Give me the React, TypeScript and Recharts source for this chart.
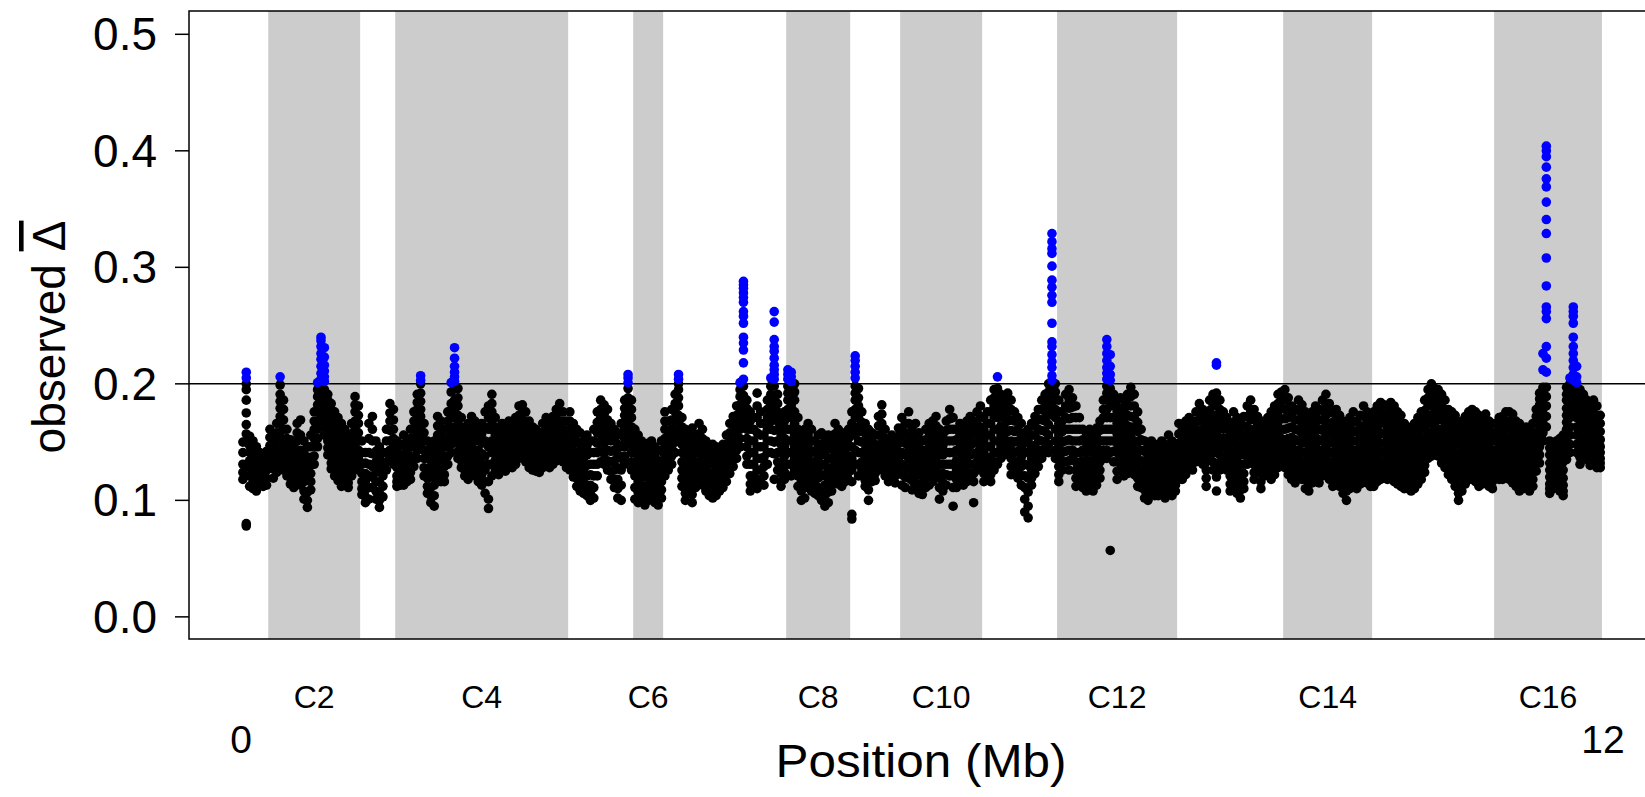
import {
  ScatterChart,
  Scatter,
  XAxis,
  YAxis,
  ReferenceArea,
  ReferenceLine,
} from "recharts";

const chrNames = ["C1", "C2", "C3", "C4", "C5", "C6", "C7", "C8", "C9", "C10", "C11", "C12", "C13", "C14", "C15", "C16"];
const chrLengths = [0.238, 0.81, 0.309, 1.524, 0.573, 0.264, 1.084, 0.564, 0.44, 0.723, 0.66, 1.058, 0.934, 0.784, 1.075, 0.95];
const posTicks = [0, 12];
const yTicks = [0, 0.1, 0.2, 0.3, 0.4, 0.5];
const threshold = 0.2;

// observed delta (x1000); each inner list = windows at one position along the chromosome
const c1 = [
  [150, 141, 131, 124, 118], [210, 205, 200, 195, 186, 175, 165, 157, 150, 80, 78],
  [155, 147, 141, 134, 128, 121, 112], [151, 143, 136, 129, 122, 116, 110], [146, 138, 131, 125, 119, 113, 108],
  [141, 134, 127, 121, 116], [136, 129, 123, 117, 112], [142, 134, 126, 119, 113],
];
const c2 = [
  [161, 154, 147, 140, 133], [156, 149, 141, 134, 127, 119], [166, 158, 151, 144, 137, 130, 124],
  [206, 199, 191, 185, 179, 172, 166, 158, 151, 142, 133], [186, 178, 169, 161, 152, 145, 138, 132, 126],
  [161, 153, 146, 138, 131, 126, 121], [152, 145, 139, 132, 126, 120, 114], [146, 138, 131, 125, 119, 115, 111],
  [166, 158, 151, 143, 136, 128, 121], [169, 156, 143, 134, 126, 119, 113], [151, 141, 132, 124, 116, 108, 101],
  [146, 136, 126, 117, 107, 100, 94], [156, 146, 137, 130, 123, 116, 109], [176, 168, 161, 153, 146, 138, 131],
  [201, 195, 189, 182, 176, 168, 161, 153, 146],
  [240, 237, 232, 226, 221, 215, 209, 204, 198, 190, 184, 178, 173, 168],
  [231, 223, 216, 211, 206, 202, 195, 190, 185, 178, 171, 163, 156],
  [191, 186, 181, 176, 171, 166, 161, 156, 151, 145, 139], [183, 178, 173, 167, 161, 155, 149, 143, 138, 132, 127],
  [176, 171, 166, 159, 153, 147, 141, 136, 132, 126, 121], [171, 165, 159, 152, 146, 141, 136, 132, 128, 122, 117],
  [166, 159, 153, 147, 141, 135, 129, 125, 122, 117, 112], [161, 153, 146, 139, 133, 128, 123, 119, 116],
  [156, 148, 141, 135, 129, 124, 119, 115, 111], [166, 157, 149, 141, 133, 127, 121],
  [189, 182, 176, 168, 161, 153, 146, 138, 131], [181, 173, 166, 158, 151, 143, 136, 131, 126],
];
const c3 = [
  [151, 141, 131, 123, 116, 110, 105], [141, 132, 123, 116, 109, 103, 98], [166, 153, 141, 131, 121, 111, 101],
  [172, 161, 151, 140, 129, 120, 111], [151, 142, 133, 124, 116, 108, 101], [146, 136, 126, 116, 106, 100, 94],
  [141, 131, 121, 112, 103], [161, 151, 141, 133, 126], [183, 175, 168, 160, 151, 143, 136],
  [178, 169, 161, 153, 146, 138, 131],
];
const c4 = [
  [151, 143, 136, 128, 121, 116, 112], [148, 139, 131, 124, 118, 113], [156, 147, 139, 132, 126, 119, 113],
  [151, 142, 133, 127, 121, 116], [161, 153, 146, 138, 131, 124, 118], [176, 168, 161, 153, 146, 137, 129],
  [191, 184, 178, 172, 166, 158, 151, 143, 136], [207, 203, 200, 192, 185, 178, 172, 166, 161, 153, 146],
  [166, 158, 151, 143, 136, 128, 121], [151, 143, 136, 127, 119, 112, 106], [146, 137, 129, 120, 111, 104, 98],
  [151, 141, 131, 122, 113, 104, 95], [172, 164, 156, 146, 136, 127, 119], [168, 159, 151, 141, 131, 123, 116],
  [161, 153, 146, 137, 129, 122, 116], [176, 168, 161, 153, 146, 138, 131],
  [201, 193, 183, 177, 171, 163, 156, 148, 141], [231, 222, 215, 210, 206, 202, 196, 186, 178, 171, 161, 151],
  [196, 188, 181, 173, 166, 157, 149, 142, 136], [171, 163, 156, 148, 141, 134, 128], [161, 153, 146, 138, 131, 126, 121],
  [166, 157, 149, 141, 133, 125, 118], [172, 164, 156, 147, 139, 131, 123], [168, 159, 151, 143, 136, 128, 121],
  [161, 152, 143, 136, 129, 122, 116], [166, 157, 149, 140, 131, 122, 113], [176, 163, 151, 138, 126, 116, 106],
  [181, 171, 161, 146, 131, 116, 101, 93], [191, 183, 176, 168, 161, 151, 141, 131, 121],
  [171, 163, 156, 148, 141, 134, 127], [161, 154, 146, 139, 133, 127, 122], [166, 158, 151, 145, 139, 133, 128],
  [161, 155, 149, 142, 136, 130, 125], [168, 160, 153, 147, 141, 136, 131], [166, 158, 151, 145, 139, 133, 128],
  [171, 163, 156, 149, 143, 137, 131], [181, 173, 166, 158, 151, 143, 136], [182, 175, 168, 160, 153, 146, 139],
  [176, 168, 161, 153, 146, 139, 133], [168, 160, 153, 147, 141, 134, 128], [163, 157, 151, 144, 138, 132, 126],
  [161, 154, 148, 142, 137, 131, 125], [158, 152, 146, 141, 136, 130, 124], [166, 158, 151, 145, 139, 133, 128],
  [171, 163, 156, 148, 141, 136, 131], [166, 160, 153, 147, 141, 134, 128], [172, 165, 158, 150, 143, 137, 131],
  [178, 170, 163, 155, 148, 141, 134], [183, 176, 168, 159, 151, 144, 137], [176, 168, 161, 153, 146, 139, 133],
  [168, 160, 153, 147, 141, 134, 128],
];
const c5 = [
  [176, 168, 161, 151, 141, 133, 126], [166, 157, 148, 140, 133, 127, 120], [161, 151, 141, 133, 126, 119, 112],
  [158, 148, 138, 129, 121, 114, 108], [151, 143, 136, 127, 118, 112, 106], [156, 147, 139, 130, 121, 112, 104],
  [151, 141, 131, 122, 113, 106, 100], [161, 151, 141, 131, 121, 111, 102], [176, 167, 158, 149, 141, 131, 121],
  [186, 178, 171, 161, 151, 142, 133], [182, 174, 166, 157, 149, 140, 131], [178, 169, 161, 152, 143, 134, 126],
  [166, 158, 151, 142, 133, 125, 118], [161, 152, 143, 134, 126, 118, 111], [158, 148, 139, 128, 118, 110, 102],
  [166, 156, 146, 136, 126, 113, 100], [186, 179, 173, 166, 161, 153, 146, 138, 131],
  [208, 205, 201, 196, 188, 181, 173, 166, 158, 151], [186, 178, 171, 163, 156, 148, 141, 133, 126],
];
const c6 = [
  [161, 151, 141, 131, 121, 111, 101], [156, 146, 136, 126, 116, 107, 98], [151, 141, 131, 122, 113, 106, 100],
  [146, 137, 129, 120, 111, 103, 96], [149, 140, 131, 122, 113, 106, 100], [151, 142, 133, 124, 116, 110, 104],
  [146, 137, 129, 121, 113, 105, 98], [143, 134, 126, 117, 109, 102, 96], [151, 142, 133, 124, 116, 109, 102],
];
const c7 = [
  [176, 168, 161, 153, 146, 139, 133, 127, 121], [168, 160, 153, 146, 139, 132, 126], [178, 169, 161, 153, 146, 138, 131],
  [191, 183, 176, 168, 159, 150, 141], [208, 204, 200, 195, 188, 181, 173, 166, 158, 151],
  [171, 163, 156, 148, 141, 133, 126, 119, 112], [161, 153, 146, 137, 129, 121, 113, 106, 100],
  [158, 149, 141, 133, 126, 117, 109], [162, 154, 147, 139, 131, 122, 113, 105, 98], [156, 148, 141, 133, 126, 118, 111],
  [166, 157, 149, 141, 133, 126, 119], [161, 153, 146, 137, 129, 121, 113], [151, 143, 136, 128, 121, 114, 108],
  [146, 138, 131, 123, 116, 110, 104], [148, 139, 131, 123, 116, 109, 102], [146, 137, 129, 121, 113, 108, 104],
  [143, 136, 129, 122, 116, 112, 108], [148, 140, 133, 127, 121, 115, 111], [156, 148, 141, 135, 129, 122, 116],
  [166, 158, 151, 143, 136, 129, 123], [172, 165, 158, 150, 143, 136, 129], [181, 173, 166, 158, 151, 143, 136],
  [201, 195, 189, 182, 176, 168, 161, 153, 146],
  [288, 285, 282, 278, 274, 270, 262, 258, 252, 240, 235, 229, 218, 204, 198, 190, 185, 180, 172, 165],
  [186, 179, 173, 167, 161, 153, 146, 138, 131], [176, 168, 161, 151, 141, 131, 121, 114, 108],
  [171, 161, 151, 141, 131, 121, 112], [192, 181, 171, 158, 146, 136, 126, 118, 110], [176, 166, 156, 146, 136, 126, 116],
  [166, 156, 146, 137, 129, 121, 113], [186, 178, 171, 161, 151, 141, 131], [205, 198, 191, 183, 176, 168, 161, 151, 141],
  [262, 253, 238, 232, 228, 222, 216, 212, 208, 204, 198, 189, 180, 170, 160, 150, 140, 118],
  [191, 183, 176, 168, 161, 151, 141, 133, 126], [171, 163, 156, 148, 141, 132, 123, 116, 112],
  [176, 168, 161, 153, 146, 138, 131, 124, 118],
];
const c8 = [
  [212, 208, 204, 198, 192, 186, 178, 171, 161, 151, 141, 131], [210, 206, 202, 195, 188, 181, 171, 161, 151, 141, 131, 121],
  [200, 193, 186, 176, 166, 156, 146, 136, 126], [171, 161, 151, 141, 131, 121, 112], [156, 146, 136, 126, 116, 108, 100],
  [161, 151, 141, 131, 121, 111, 102], [166, 156, 146, 136, 126, 118, 111], [161, 151, 141, 132, 123, 115, 108],
  [151, 142, 133, 126, 118, 112, 106], [156, 146, 136, 127, 119, 111, 104], [158, 148, 139, 130, 121, 110, 100],
  [151, 141, 131, 122, 113, 104, 95], [156, 146, 136, 126, 116, 107, 98], [153, 144, 136, 128, 121, 114, 108],
  [166, 157, 149, 140, 131, 124, 118], [161, 153, 146, 137, 129, 121, 114], [156, 148, 141, 133, 126, 119, 112],
  [158, 150, 143, 136, 129, 122, 116], [161, 153, 146, 138, 131, 124, 118],
];
const c9 = [
  [176, 166, 156, 146, 136, 126, 116, 88, 84], [224, 220, 215, 210, 205, 198, 192, 186, 178, 171, 163, 156, 143, 131],
  [196, 188, 181, 171, 161, 151, 141, 131, 121], [176, 167, 159, 150, 141, 133, 126],
  [166, 158, 151, 143, 136, 129, 123, 117, 112], [161, 153, 146, 138, 131, 124, 118, 109, 100],
  [158, 150, 143, 136, 129, 122, 116], [156, 148, 141, 135, 129, 123, 117], [172, 164, 156, 147, 139, 132, 126],
  [182, 174, 166, 157, 149, 141, 133], [161, 153, 146, 139, 133, 127, 121], [151, 145, 139, 133, 127, 121, 116],
  [156, 148, 141, 135, 129, 123, 118], [151, 145, 139, 133, 127, 121, 115], [162, 155, 149, 142, 136, 129, 123],
];
const c10 = [
  [171, 161, 151, 141, 131, 122, 113], [166, 158, 149, 139, 129, 120, 111], [176, 166, 156, 146, 136, 127, 119],
  [161, 152, 143, 134, 126, 117, 109], [166, 156, 146, 137, 129, 121, 113], [158, 149, 141, 132, 123, 114, 106],
  [151, 143, 136, 128, 121, 113, 105], [161, 152, 143, 134, 126, 118, 111], [166, 158, 149, 140, 131, 122, 113],
  [168, 160, 151, 142, 133, 124, 116], [172, 164, 156, 146, 136, 127, 119], [161, 151, 141, 131, 121, 111, 101],
  [156, 147, 139, 131, 123, 115, 108], [168, 160, 151, 141, 131, 122, 113], [178, 170, 161, 151, 141, 131, 121],
  [171, 161, 151, 141, 131, 121, 111, 95], [161, 152, 143, 134, 126, 118, 111], [166, 157, 149, 141, 133, 125, 118],
  [162, 154, 146, 137, 129, 121, 113], [168, 160, 151, 142, 133, 124, 116], [172, 164, 156, 147, 139, 131, 123],
  [166, 157, 149, 140, 131, 123, 116, 98], [176, 168, 159, 150, 141, 133, 126], [181, 172, 163, 154, 146, 137, 129],
];
const c11 = [
  [171, 161, 151, 141, 131, 123, 116], [176, 166, 156, 146, 136, 127, 119], [186, 176, 166, 156, 146, 137, 129, 122, 116],
  [195, 188, 181, 171, 161, 151, 141, 133, 126], [206, 196, 186, 178, 171, 161, 151, 141, 131],
  [191, 182, 173, 164, 156, 146, 136], [188, 179, 171, 162, 153, 146, 139], [192, 184, 176, 168, 159, 150, 141],
  [186, 178, 169, 160, 151, 143, 136, 129, 122], [176, 168, 159, 150, 141, 133, 126], [171, 161, 151, 142, 133, 126, 119],
  [166, 156, 146, 137, 129, 121, 113], [158, 149, 141, 131, 121, 111, 101, 90], [161, 151, 141, 130, 119, 107, 95, 85],
  [166, 156, 146, 136, 126, 119, 113], [172, 164, 156, 147, 139, 131, 123], [178, 170, 161, 152, 143, 136, 129],
  [186, 178, 169, 160, 151, 143, 136], [191, 184, 176, 168, 159, 150, 141], [200, 193, 186, 179, 173, 165, 156, 148, 141],
  [329, 322, 316, 312, 301, 289, 283, 276, 270, 252, 236, 232, 225, 219, 214, 207, 203, 199, 192, 185, 176],
  [200, 193, 186, 178, 171, 161, 151, 143, 136],
];
const c12 = [
  [186, 176, 166, 156, 146, 137, 129, 122, 116], [176, 168, 159, 150, 141, 133, 126], [191, 181, 171, 161, 151, 142, 133],
  [195, 187, 179, 170, 161, 152, 143, 134, 126], [188, 180, 171, 161, 151, 143, 136],
  [181, 171, 161, 151, 141, 133, 126, 119, 112], [171, 161, 151, 141, 131, 123, 116], [161, 152, 143, 134, 126, 118, 111],
  [158, 149, 141, 132, 123, 115, 108], [161, 152, 143, 134, 126, 118, 111], [158, 149, 141, 132, 123, 115, 108],
  [162, 154, 146, 137, 129, 121, 113], [168, 160, 151, 142, 133, 126, 119], [186, 178, 171, 161, 151, 143, 136],
  [238, 232, 226, 220, 214, 209, 204, 198, 192, 186, 178, 171, 161, 151, 143, 136],
  [225, 215, 208, 203, 196, 188, 181, 171, 161, 151, 141, 57], [191, 181, 171, 161, 151, 142, 133],
  [186, 176, 166, 157, 149, 141, 133, 125, 118], [188, 179, 171, 162, 153, 146, 139, 132, 126],
  [186, 177, 169, 160, 151, 143, 136, 128, 121], [191, 182, 173, 164, 156, 147, 139, 131, 123],
  [197, 189, 181, 172, 163, 154, 146, 137, 129], [191, 181, 171, 161, 151, 143, 136, 129, 122],
  [176, 167, 159, 150, 141, 133, 126, 119, 112], [161, 152, 143, 134, 126, 118, 111], [151, 142, 133, 124, 116, 109, 102],
  [146, 137, 129, 120, 113, 106, 100], [151, 142, 133, 126, 119, 112, 106], [148, 139, 131, 123, 116, 110, 104],
  [146, 137, 129, 122, 115, 109, 104], [151, 142, 133, 125, 117, 111, 106], [148, 139, 131, 123, 116, 109, 102],
  [156, 146, 136, 127, 119, 112, 105], [151, 142, 133, 125, 117, 110, 104], [148, 140, 133, 126, 119, 113, 108],
];
const c13 = [
  [166, 157, 149, 141, 133, 125, 118], [161, 153, 146, 138, 131, 124, 118], [168, 160, 151, 143, 136, 129, 122],
  [171, 163, 156, 148, 141, 134, 128], [168, 160, 153, 146, 139, 132, 126], [176, 168, 161, 153, 146, 139, 133],
  [183, 175, 168, 159, 151, 143, 136], [178, 170, 161, 153, 146, 138, 131], [172, 164, 156, 148, 141, 133, 126, 119, 112],
  [186, 177, 169, 160, 151, 143, 136], [191, 182, 173, 164, 156, 148, 141, 133, 126],
  [218, 216, 192, 186, 181, 173, 166, 158, 151, 141, 131, 120, 108], [186, 178, 171, 162, 153, 146, 139, 132, 126],
  [176, 168, 161, 153, 146, 138, 131], [171, 162, 153, 146, 139, 132, 126], [166, 158, 151, 143, 136, 128, 121, 114, 108],
  [176, 167, 159, 150, 141, 133, 126, 119, 112], [171, 162, 153, 144, 136, 128, 121, 113, 106],
  [166, 157, 149, 140, 131, 123, 116, 109, 102], [172, 164, 156, 147, 139, 131, 123, 116, 110],
  [181, 172, 163, 154, 146, 138, 131], [186, 177, 169, 160, 151, 143, 136], [178, 170, 161, 153, 146, 138, 131, 124, 118],
  [172, 164, 156, 148, 141, 134, 127], [168, 159, 151, 143, 136, 129, 123, 116, 110], [166, 157, 149, 141, 133, 127, 121],
  [171, 162, 153, 146, 139, 132, 126], [176, 168, 159, 151, 143, 137, 131, 124, 118], [181, 172, 163, 156, 149, 142, 136, 129, 122],
  [191, 183, 176, 167, 159, 151, 143, 135, 128], [193, 186, 179, 170, 161, 153, 146, 138, 131],
];
const c14 = [
  [195, 186, 178, 170, 161, 152, 143, 135, 128], [188, 179, 171, 162, 153, 145, 137, 129, 122],
  [181, 172, 163, 154, 146, 138, 131, 124, 118], [178, 169, 161, 152, 143, 136, 129, 122, 115],
  [186, 177, 169, 160, 151, 143, 136, 128, 121], [182, 174, 166, 157, 149, 141, 133, 125, 118],
  [176, 167, 159, 150, 141, 133, 126, 118, 110], [171, 162, 153, 144, 136, 128, 121, 114, 108],
  [176, 167, 159, 151, 143, 136, 129, 122, 115], [181, 172, 163, 154, 146, 138, 131, 124, 118],
  [178, 169, 161, 152, 143, 136, 129, 122, 115], [186, 177, 169, 160, 151, 143, 136, 128, 121],
  [191, 182, 173, 164, 156, 147, 139, 130, 122], [183, 175, 166, 157, 149, 141, 133, 125, 118],
  [176, 167, 159, 150, 141, 133, 126, 119, 112], [178, 170, 161, 153, 146, 138, 131, 124, 118],
  [173, 164, 156, 148, 141, 134, 127, 119, 112], [168, 159, 151, 143, 136, 128, 121, 113, 106],
  [166, 157, 149, 140, 131, 123, 116, 108, 100], [171, 162, 153, 145, 137, 130, 123, 116, 110],
  [176, 167, 159, 151, 143, 136, 129, 122, 115], [168, 159, 151, 143, 136, 129, 123, 116, 110],
  [173, 164, 156, 148, 141, 134, 127, 120, 114], [181, 172, 163, 154, 146, 138, 131, 123, 116],
  [176, 167, 159, 151, 143, 136, 129, 122, 115], [171, 162, 153, 146, 139, 132, 126, 119, 112],
];
const c15 = [
  [176, 167, 159, 150, 141, 133, 126, 119, 112], [181, 172, 163, 154, 146, 138, 131, 123, 116],
  [184, 175, 167, 158, 149, 141, 133, 125, 118], [182, 174, 166, 157, 149, 141, 133, 126, 120],
  [181, 172, 163, 154, 146, 138, 131, 124, 118], [184, 175, 167, 158, 149, 141, 133, 126, 120],
  [181, 172, 163, 155, 147, 139, 131, 123, 116], [176, 168, 161, 152, 143, 136, 129, 121, 114],
  [173, 164, 156, 148, 141, 134, 127, 119, 112], [166, 158, 151, 143, 136, 129, 123, 116, 110],
  [163, 156, 149, 142, 135, 128, 121, 115, 110], [161, 154, 147, 140, 133, 127, 121, 114, 108],
  [166, 158, 151, 144, 137, 130, 123, 116, 110], [171, 163, 156, 148, 141, 134, 127, 120, 114],
  [176, 168, 161, 153, 146, 138, 131, 124, 118], [186, 177, 169, 161, 153, 145, 137, 130, 124],
  [195, 188, 181, 173, 166, 158, 151, 143, 136], [200, 192, 186, 181, 173, 166, 158, 151, 144, 138],
  [196, 191, 186, 178, 171, 163, 156, 148, 141], [195, 189, 183, 176, 169, 161, 153, 145, 138],
  [191, 184, 177, 169, 161, 154, 147, 139, 132], [186, 178, 171, 163, 156, 148, 141, 134, 128],
  [178, 170, 163, 156, 149, 142, 135, 128, 122], [176, 168, 161, 153, 146, 138, 131, 124, 118],
  [173, 164, 156, 148, 141, 133, 126, 119, 112], [166, 157, 149, 140, 131, 122, 113, 106, 100],
  [168, 160, 153, 145, 137, 129, 121, 114, 108], [172, 164, 157, 149, 141, 134, 127, 120, 114],
  [176, 168, 161, 153, 146, 138, 131, 124, 118], [178, 170, 163, 155, 147, 140, 133, 125, 118],
  [176, 168, 161, 153, 146, 138, 131, 123, 116], [173, 165, 157, 149, 141, 134, 127, 119, 112],
  [171, 163, 156, 148, 141, 134, 127, 120, 114], [174, 166, 159, 151, 143, 136, 129, 122, 115],
  [168, 160, 153, 146, 139, 132, 126, 119, 112], [166, 158, 151, 143, 136, 129, 123, 116, 110],
];
const c16 = [
  [166, 158, 151, 143, 136, 129, 122], [171, 163, 156, 148, 141, 135, 129, 123, 118],
  [172, 164, 157, 150, 143, 137, 131, 124, 118], [176, 168, 161, 153, 146, 139, 133, 126, 120],
  [176, 168, 161, 153, 146, 138, 131, 124, 118], [174, 166, 159, 151, 143, 136, 129, 122, 115],
  [168, 160, 153, 146, 139, 132, 126, 119, 112], [166, 158, 151, 144, 137, 130, 123, 115, 108],
  [161, 154, 147, 140, 133, 127, 121, 115, 110], [163, 156, 149, 142, 135, 129, 123, 117, 112],
  [161, 153, 146, 139, 133, 127, 121, 114, 108], [166, 158, 151, 144, 137, 131, 125, 118, 112],
  [178, 172, 166, 158, 151, 145, 139, 132, 125], [192, 187, 182, 176, 171, 165, 159, 152, 146, 139, 132],
  [226, 212, 197, 192, 188, 183, 178, 172, 166, 158, 151],
  [404, 400, 395, 386, 376, 369, 356, 341, 329, 308, 284, 266, 262, 256, 232, 222, 210, 197, 189, 181, 172, 163],
  [151, 145, 139, 132, 126, 120, 114, 110, 106], [146, 139, 133, 127, 121, 115, 110], [151, 145, 139, 133, 127, 121, 115],
  [153, 147, 141, 135, 129, 123, 117, 112, 108], [156, 148, 141, 133, 126, 119, 113, 108, 104],
  [197, 191, 186, 179, 173, 167, 161, 155, 149, 142, 135], [205, 200, 195, 190, 186, 178, 171, 163, 156, 148, 141],
  [266, 262, 258, 252, 240, 232, 226, 220, 214, 208, 203, 199, 195, 191, 184, 178],
  [215, 206, 201, 196, 191, 186, 178, 171, 163, 156, 148, 141], [195, 189, 183, 176, 169, 162, 156, 149, 143, 137, 131],
  [191, 184, 177, 170, 163, 157, 151, 145, 139], [186, 178, 171, 164, 157, 151, 145, 140, 135],
  [181, 173, 166, 159, 153, 146, 140, 135, 130], [186, 179, 173, 166, 159, 152, 145, 139, 133],
  [181, 173, 166, 158, 151, 145, 139, 133, 128], [173, 166, 159, 152, 146, 141, 136, 132, 128],
];
const chrValues = [c1, c2, c3, c4, c5, c6, c7, c8, c9, c10, c11, c12, c13, c14, c15, c16];

const starts = chrLengths.map((_, i) => chrLengths.slice(0, i).reduce((a, b) => a + b, 0));

const points = chrValues.flatMap((cols, c) =>
  cols.flatMap((col, i) =>
    col.map((v) => ({ x: starts[c] + ((i + 0.5) * chrLengths[c]) / cols.length, y: v / 1000 }))
  )
);
const lowPts = points.filter((p) => p.y <= threshold);
const highPts = points.filter((p) => p.y > threshold);

const chrTicks = chrNames
  .map((name, i) => ({ value: starts[i] + chrLengths[i] / 2, label: name }))
  .filter((_, i) => i % 2 === 1);
const allTicks = [...posTicks, ...chrTicks.map((t) => t.value)];

const FONT = "'Liberation Sans', Arial, Helvetica, sans-serif";
const X_MIN = -0.46;
const X_MAX = 12.44;
const Y_MIN = -0.019;
const Y_MAX = 0.52;

const dot = (fill: string) => (p: any) => <circle cx={p.cx} cy={p.cy} r={4.8} fill={fill} />;

const XTick = (props: any) => {
  const { x, payload } = props;
  const chr = chrTicks.find((t) => t.value === payload.value);
  if (chr) {
    return (
      <text x={x} y={708} textAnchor="middle" fontSize={32} fontFamily={FONT} fill="#000">
        {chr.label}
      </text>
    );
  }
  return (
    <text x={x} y={753} textAnchor="middle" fontSize={39} fontFamily={FONT} fill="#000">
      {payload.value}
    </text>
  );
};

const YTick = (props: any) => {
  const { y, payload } = props;
  return (
    <text x={157} y={y + 16} textAnchor="end" fontSize={46} fontFamily={FONT} fill="#000">
      {Number(payload.value).toFixed(1)}
    </text>
  );
};

const XTitle = (props: any) => {
  const vb = props.viewBox || {};
  return (
    <text
      x={vb.x + vb.width / 2}
      y={777}
      textAnchor="middle"
      fontSize={46}
      fontFamily={FONT}
      fill="#000"
      textLength={291}
      lengthAdjust="spacingAndGlyphs"
    >
      Position (Mb)
    </text>
  );
};

const YTitle = () => (
  <text x={65} y={337} transform="rotate(-90 65 337)" textAnchor="middle" fontSize={46} fontFamily={FONT} fill="#000">
    observed <tspan textDecoration="overline">Δ</tspan>
  </text>
);

export default function App() {
  return (
    <div style={{ position: "absolute", left: 0, top: 0, width: 1645, height: 797, overflow: "hidden", background: "#fff" }}>
      <ScatterChart width={1660} height={797} margin={{ top: 11, right: 7, bottom: 0, left: 0 }}>
        <XAxis
          type="number"
          dataKey="x"
          domain={[X_MIN, X_MAX]}
          ticks={allTicks}
          interval={0}
          tick={<XTick />}
          tickLine={false}
          axisLine={false}
          height={158}
          allowDataOverflow
          label={<XTitle />}
        />
        <YAxis
          type="number"
          dataKey="y"
          domain={[Y_MIN, Y_MAX]}
          ticks={yTicks}
          interval={0}
          width={189}
          tick={<YTick />}
          tickSize={14}
          tickLine={{ stroke: "#000", strokeWidth: 1.5 }}
          axisLine={false}
          allowDataOverflow
          label={<YTitle />}
        />
        {chrLengths.map((len, i) =>
          i % 2 === 1 ? (
            <ReferenceArea
              key={chrNames[i]}
              x1={starts[i]}
              x2={starts[i] + len}
              y1={Y_MIN}
              y2={Y_MAX}
              fill="#cccccc"
              fillOpacity={1}
              stroke="none"
            />
          ) : null
        )}
        <ReferenceLine y={threshold} stroke="#000" strokeWidth={1.5} />
        <Scatter data={lowPts} fill="#000" shape={dot("#000")} isAnimationActive={false} />
        <Scatter data={highPts} fill="#0000ff" shape={dot("#0000ff")} isAnimationActive={false} />
        <ReferenceArea x1={X_MIN} x2={X_MAX} y1={Y_MIN} y2={Y_MAX} fill="none" stroke="#000" strokeWidth={1.5} />
      </ScatterChart>
    </div>
  );
}
